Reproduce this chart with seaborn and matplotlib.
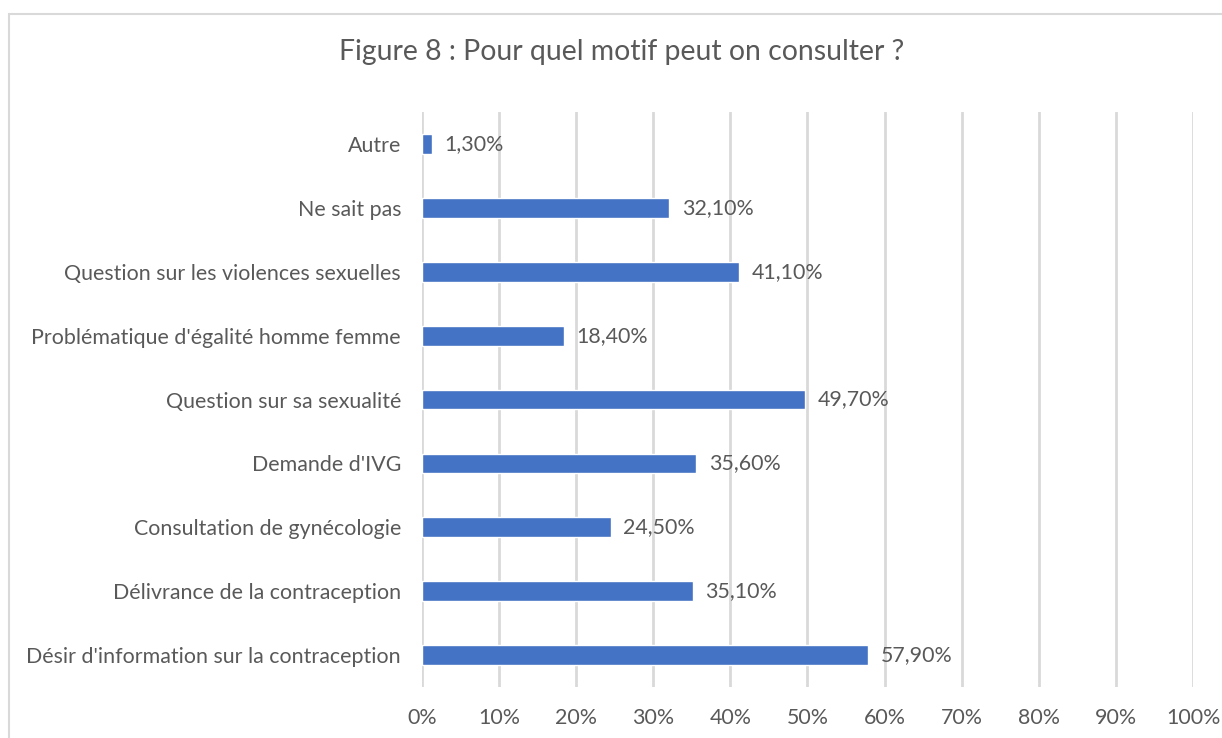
import pandas as pd
import seaborn as sns
import matplotlib.pyplot as plt
from matplotlib.patches import Rectangle

# Data
motifs = [
    "Autre",
    "Ne sait pas",
    "Question sur les violences sexuelles",
    "Problématique d'égalité homme femme",
    "Question sur sa sexualité",
    "Demande d'IVG",
    "Consultation de gynécologie",
    "Délivrance de la contraception",
    "Désir d'information sur la contraception",
]
pourcentages = [1.3, 32.1, 41.1, 18.4, 49.7, 35.6, 24.5, 35.1, 57.9]
ticks = [0, 10, 20, 30, 40, 50, 60, 70, 80, 90, 100]

df = pd.DataFrame({"motif": motifs, "pct": pourcentages})

sns.set_theme(style="white")
plt.rcParams['font.family'] = ['Lato', 'DejaVu Sans']

txt = '#595959'
fig = plt.figure(figsize=(12.22, 7.38), dpi=100)
ax = fig.add_axes([0.3453, 0.0691, 0.6310, 0.7791])

sns.barplot(data=df, x="pct", y="motif", color='#4472C4', saturation=1,
            width=0.31, ax=ax, zorder=3)

ax.set_xlim(0, 100)
ax.set_ylim(len(motifs) - 0.5, -0.5)
ax.set_xticks(ticks)
ax.set_xticklabels([f"{t}%" for t in ticks], fontsize=15.4, color=txt)
ax.tick_params(axis='x', length=0, pad=15)
ax.tick_params(axis='y', length=0, pad=15, labelsize=15.4, labelcolor=txt)
ax.grid(axis='x', color='#d9d9d9', linewidth=2, zorder=0)
ax.grid(axis='y', visible=False)
for s in ax.spines.values():
    s.set_visible(False)
ax.set_xlabel("")
ax.set_ylabel("")

for i, v in enumerate(pourcentages):
    ax.text(v + 1.6, i, f"{v:.2f}%".replace('.', ','), va='center', ha='left',
            fontsize=15.4, color=txt)

fig.text(0.509, 0.93, "Figure 8 : Pour quel motif peut on consulter ?",
         ha='center', va='center', fontsize=20.4, color=txt)

# light frame around the chart
fig.patches.append(Rectangle((9 / 1222, -0.05), 1.1, 1 - 14 / 738 + 0.05,
                             transform=fig.transFigure, fill=False,
                             edgecolor='#d9d9d9', linewidth=1.5))

fig.savefig("out.png", dpi=100)
